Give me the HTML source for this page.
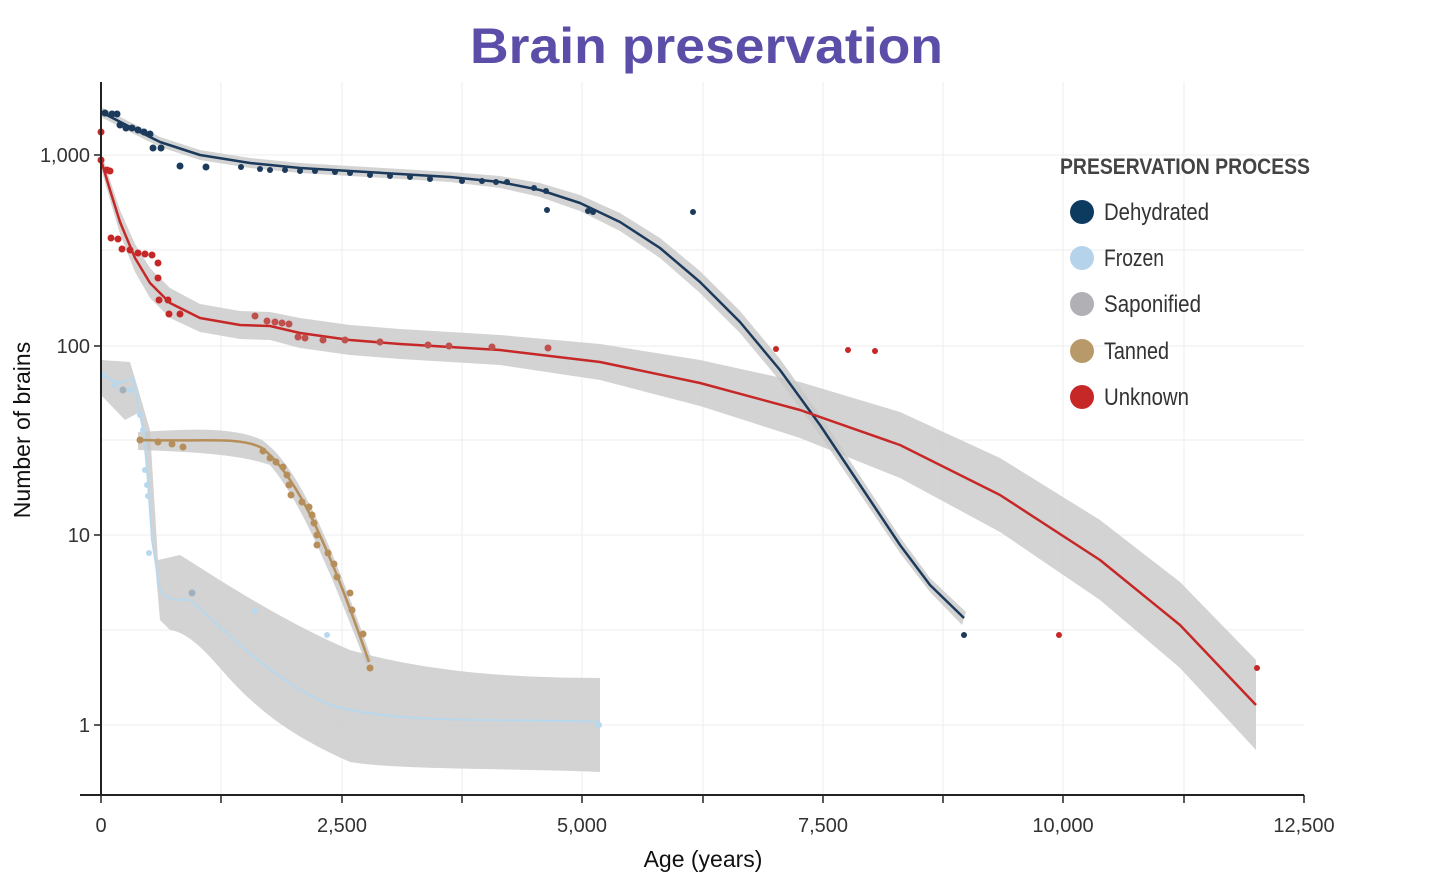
<!DOCTYPE html>
<html><head><meta charset="utf-8"><style>
body{margin:0;background:#fff;}
svg{display:block;font-family:"Liberation Sans",sans-serif;}
</style></head><body>
<svg width="1440" height="889" viewBox="0 0 1440 889" xmlns="http://www.w3.org/2000/svg">
<text x="470" y="63" font-size="50" font-weight="bold" fill="#5b4ea8" textLength="473" lengthAdjust="spacingAndGlyphs">Brain preservation</text>
<!-- grid -->
<g stroke="#eeeeee" stroke-width="1">
<line x1="101" y1="250" x2="1304" y2="250"/><line x1="101" y1="440" x2="1304" y2="440"/><line x1="101" y1="630" x2="1304" y2="630"/>
<line x1="101" y1="155" x2="1304" y2="155"/><line x1="101" y1="346" x2="1304" y2="346"/><line x1="101" y1="535" x2="1304" y2="535"/><line x1="101" y1="725" x2="1304" y2="725"/>
<line x1="221" y1="82" x2="221" y2="795"/><line x1="342" y1="82" x2="342" y2="795"/><line x1="462" y1="82" x2="462" y2="795"/><line x1="582" y1="82" x2="582" y2="795"/><line x1="703" y1="82" x2="703" y2="795"/><line x1="823" y1="82" x2="823" y2="795"/><line x1="943" y1="82" x2="943" y2="795"/><line x1="1063" y1="82" x2="1063" y2="795"/><line x1="1184" y1="82" x2="1184" y2="795"/>
</g>
<!-- bands -->
<g fill="#c8c8c8" fill-opacity="0.8">
<path d="M101,107 L130,122 L160,137 L200,150 L250,158 L300,163 L350,166 L400,169 L450,172 L500,176 L540,183 L580,195 L620,213 L660,238 L700,271 L740,311 L780,359 L820,415 L860,476 L900,537 L930,578 L966,612 L962,625 L930,592 L900,553 L860,494 L820,435 L780,381 L740,333 L700,293 L660,258 L620,231 L580,211 L540,197 L500,188 L450,182 L400,179 L350,176 L300,173 L250,168 L200,160 L160,147 L130,132 L101,117 Z"/>
<path d="M101,152 L110,180 L120,210 L135,244 L150,268 L170,288 L200,304 L240,311 L270,312 L300,318 L350,325 L400,329 L500,335 L600,344 L700,360 L800,382 L900,412 L1000,458 L1100,520 L1180,582 L1256,660 L1256,750 L1180,668 L1100,600 L1000,532 L900,478 L800,438 L700,406 L600,380 L500,365 L400,359 L350,355 L300,348 L270,340 L240,339 L200,332 L170,318 L150,298 L135,272 L120,234 L110,200 L101,168 Z"/>
<path d="M101,360 L130,362 L137,385 L150,430 L158,560 L180,555 C220,580 280,620 350,650 C420,670 500,678 600,678 L600,772 C500,768 400,770 350,762 C300,740 260,715 220,668 C200,645 185,632 170,630 L160,620 L150,505 L140,412 L125,420 L101,395 Z"/>
<path d="M138,432 C180,430 230,425 262,440 C290,460 320,510 372,660 L366,664 C330,570 300,500 270,465 C240,455 200,452 138,450 Z"/>
</g>
<!-- lines -->
<g fill="none" stroke-width="2.5" stroke-linejoin="round">
<path stroke="#1b3a5c" d="M101,112 L130,127 L160,142 L200,155 L250,163 L300,168 L350,171 L400,174 L450,177 L500,182 L540,190 L580,203 L620,222 L660,248 L700,282 L740,322 L780,370 L820,425 L860,485 L900,545 L930,585 L964,618"/>
<path stroke="#c62828" d="M101,160 L110,190 L120,222 L135,258 L150,283 L170,303 L200,318 L240,325 L270,326 L300,333 L350,340 L400,344 L500,350 L600,362 L700,383 L800,410 L900,445 L1000,495 L1100,560 L1180,625 L1256,705"/>
<path stroke="#b8d8ee" stroke-width="2" d="M101,375 L120,383 L133,378 L145,440 L152,540 L160,590 C170,605 180,598 190,600 C220,625 270,680 330,705 C400,725 500,718 600,722"/>
<path stroke="#b68e5a" d="M140,440 C200,442 240,436 262,448 C290,470 320,520 369,662"/>
</g>
<!-- points -->
<g fill="#1b3a5c">
<circle cx="105" cy="113" r="3.5"/><circle cx="112" cy="114" r="3.5"/><circle cx="117" cy="114" r="3.5"/><circle cx="120" cy="125" r="3.5"/><circle cx="126" cy="128" r="3.5"/><circle cx="132" cy="128" r="3.5"/><circle cx="138" cy="130" r="3.5"/><circle cx="144" cy="132" r="3.5"/><circle cx="150" cy="134" r="3.5"/><circle cx="153" cy="148" r="3.5"/><circle cx="161" cy="148" r="3.5"/><circle cx="180" cy="166" r="3.5"/><circle cx="206" cy="167" r="3.5"/><circle cx="241" cy="167" r="3"/><circle cx="260" cy="169" r="3"/><circle cx="270" cy="170" r="3"/><circle cx="285" cy="170" r="3"/><circle cx="300" cy="171" r="3"/><circle cx="315" cy="171" r="3"/><circle cx="335" cy="172" r="3"/><circle cx="350" cy="173" r="3"/><circle cx="370" cy="175" r="3"/><circle cx="390" cy="176" r="3"/><circle cx="410" cy="177" r="3"/><circle cx="430" cy="179" r="3"/><circle cx="462" cy="181" r="3"/><circle cx="482" cy="181" r="3"/><circle cx="496" cy="182" r="3"/><circle cx="507" cy="182" r="3"/><circle cx="534" cy="188" r="3"/><circle cx="546" cy="191" r="3"/><circle cx="547" cy="210" r="3"/><circle cx="588" cy="211" r="3"/><circle cx="593" cy="212" r="3"/><circle cx="693" cy="212" r="3"/><circle cx="964" cy="635" r="3"/>
</g>
<g fill="#c62828">
<circle cx="101" cy="132" r="3.5"/><circle cx="101" cy="160" r="3.5"/><circle cx="107" cy="170" r="3.5"/><circle cx="110" cy="171" r="3.5"/><circle cx="111" cy="238" r="3.5"/><circle cx="118" cy="239" r="3.5"/><circle cx="122" cy="249" r="3.5"/><circle cx="130" cy="250" r="3.5"/><circle cx="138" cy="253" r="3.5"/><circle cx="145" cy="254" r="3.5"/><circle cx="152" cy="255" r="3.5"/><circle cx="158" cy="263" r="3.5"/><circle cx="158" cy="278" r="3.5"/><circle cx="159" cy="300" r="3.5"/><circle cx="168" cy="300" r="3.5"/><circle cx="169" cy="314" r="3.5"/><circle cx="180" cy="314" r="3.5"/><circle cx="255" cy="316" r="3.5" fill="#c0504d"/><circle cx="267" cy="321" r="3.5" fill="#c0504d"/><circle cx="275" cy="322" r="3.5" fill="#c0504d"/><circle cx="282" cy="323" r="3.5" fill="#c0504d"/><circle cx="289" cy="324" r="3.5" fill="#c0504d"/><circle cx="298" cy="337" r="3.5" fill="#c0504d"/><circle cx="305" cy="338" r="3.5" fill="#c0504d"/><circle cx="323" cy="340" r="3.5" fill="#c0504d"/><circle cx="345" cy="340" r="3.5" fill="#c0504d"/><circle cx="380" cy="342" r="3.5" fill="#c0504d"/><circle cx="428" cy="345" r="3.5" fill="#c0504d"/><circle cx="449" cy="346" r="3.5" fill="#c0504d"/><circle cx="492" cy="347" r="3.5" fill="#c0504d"/><circle cx="548" cy="348" r="3.5" fill="#c0504d"/><circle cx="776" cy="349" r="3"/><circle cx="848" cy="350" r="3"/><circle cx="875" cy="351" r="3"/><circle cx="1059" cy="635" r="3"/><circle cx="1257" cy="668" r="3"/>
</g>
<g fill="#b8d8ee">
<circle cx="103" cy="375" r="3"/><circle cx="115" cy="385" r="3"/><circle cx="130" cy="390" r="3"/><circle cx="140" cy="415" r="3"/><circle cx="143" cy="430" r="3"/><circle cx="145" cy="470" r="3"/><circle cx="147" cy="485" r="3"/><circle cx="148" cy="496" r="3"/><circle cx="149" cy="553" r="3"/><circle cx="255" cy="611" r="3"/><circle cx="327" cy="635" r="3"/><circle cx="599" cy="725" r="3"/>
<circle cx="192" cy="593" r="3.5" fill="#9fb0bf"/><circle cx="123" cy="390" r="3.5" fill="#9fb0bf"/>
</g>
<g fill="#b68e5a">
<circle cx="140" cy="440" r="3.5"/><circle cx="158" cy="442" r="3.5"/><circle cx="172" cy="444" r="3.5"/><circle cx="183" cy="447" r="3.5"/><circle cx="263" cy="451" r="3.5"/><circle cx="270" cy="458" r="3.5"/><circle cx="276" cy="462" r="3.5"/><circle cx="283" cy="467" r="3.5"/><circle cx="287" cy="475" r="3.5"/><circle cx="289" cy="485" r="3.5"/><circle cx="291" cy="495" r="3.5"/><circle cx="302" cy="502" r="3.5"/><circle cx="309" cy="507" r="3.5"/><circle cx="312" cy="515" r="3.5"/><circle cx="314" cy="523" r="3.5"/><circle cx="317" cy="535" r="3.5"/><circle cx="317" cy="545" r="3.5"/><circle cx="328" cy="553" r="3.5"/><circle cx="334" cy="564" r="3.5"/><circle cx="337" cy="577" r="3.5"/><circle cx="350" cy="593" r="3.5"/><circle cx="352" cy="610" r="3.5"/><circle cx="363" cy="634" r="3.5"/><circle cx="370" cy="668" r="3.5"/>
</g>
<!-- axes -->
<line x1="101" y1="82" x2="101" y2="795" stroke="#222" stroke-width="2"/>
<line x1="80" y1="795" x2="1304" y2="795" stroke="#222" stroke-width="2"/>
<g stroke="#222" stroke-width="1.5">
<line x1="94" y1="155" x2="101" y2="155"/><line x1="94" y1="346" x2="101" y2="346"/><line x1="94" y1="535" x2="101" y2="535"/><line x1="94" y1="725" x2="101" y2="725"/>
<line x1="101" y1="795" x2="101" y2="803"/><line x1="221" y1="795" x2="221" y2="803"/><line x1="342" y1="795" x2="342" y2="803"/><line x1="462" y1="795" x2="462" y2="803"/><line x1="582" y1="795" x2="582" y2="803"/><line x1="703" y1="795" x2="703" y2="803"/><line x1="823" y1="795" x2="823" y2="803"/><line x1="943" y1="795" x2="943" y2="803"/><line x1="1063" y1="795" x2="1063" y2="803"/><line x1="1184" y1="795" x2="1184" y2="803"/><line x1="1304" y1="795" x2="1304" y2="803"/>
</g>
<g font-size="20" fill="#333" text-anchor="end">
<text x="90" y="162">1,000</text><text x="90" y="353">100</text><text x="90" y="542">10</text><text x="90" y="732">1</text>
</g>
<g font-size="20" fill="#333" text-anchor="middle">
<text x="101" y="832">0</text><text x="342" y="832">2,500</text><text x="582" y="832">5,000</text><text x="823" y="832">7,500</text><text x="1063" y="832">10,000</text><text x="1304" y="832">12,500</text>
</g>
<text x="703" y="867" text-anchor="middle" font-size="23" fill="#111">Age (years)</text>
<text transform="translate(30,430) rotate(-90)" text-anchor="middle" font-size="23" fill="#111">Number of brains</text>
<!-- legend -->
<text x="1060" y="174" font-size="22" font-weight="bold" fill="#444" textLength="250" lengthAdjust="spacingAndGlyphs">PRESERVATION PROCESS</text>
<g font-size="24" fill="#333">
<circle cx="1082" cy="212" r="12" fill="#0d3a5f"/><text x="1104" y="220" textLength="105" lengthAdjust="spacingAndGlyphs">Dehydrated</text>
<circle cx="1082" cy="258" r="12" fill="#b5d3ea"/><text x="1104" y="266" textLength="60" lengthAdjust="spacingAndGlyphs">Frozen</text>
<circle cx="1082" cy="304" r="12" fill="#b0b0b5"/><text x="1104" y="312" textLength="97" lengthAdjust="spacingAndGlyphs">Saponified</text>
<circle cx="1082" cy="351" r="12" fill="#b89a6a"/><text x="1104" y="359" textLength="65" lengthAdjust="spacingAndGlyphs">Tanned</text>
<circle cx="1082" cy="397" r="12" fill="#c62828"/><text x="1104" y="405" textLength="85" lengthAdjust="spacingAndGlyphs">Unknown</text>
</g>
</svg>
</body></html>
